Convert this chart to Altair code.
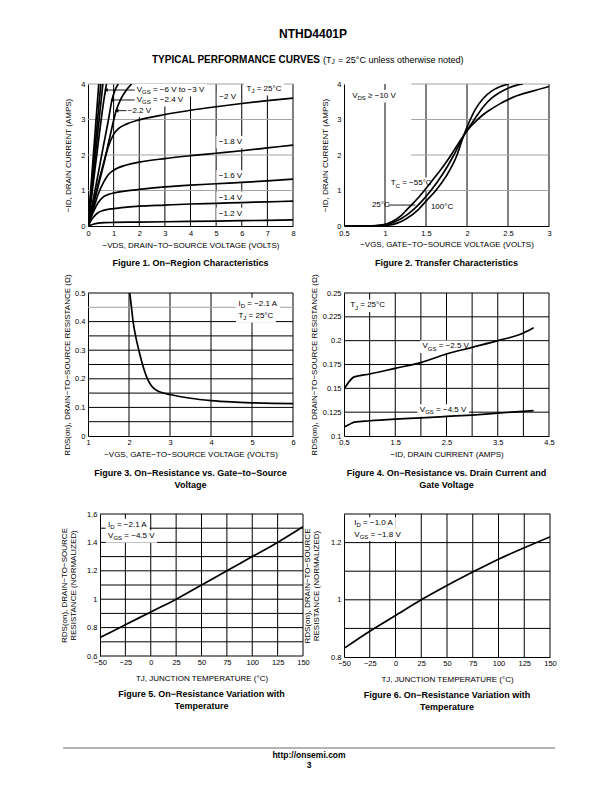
import re
import altair as alt
import pandas as pd

FONT = "Liberation Sans"
BLACK = "#000000"
GRAY = "#a3a3a3"

# ---------------- Figure 1: On-Region Characteristics ----------------
F1_X_6V = [0, 0.21, 0.42]
F1_Y_6V = [0, 2.0, 4.0]
F1_X_5V = [0, 0.25, 0.5]
F1_Y_5V = [0, 2.0, 4.0]
F1_X_4V = [0, 0.29, 0.58]
F1_Y_4V = [0, 2.0, 4.0]
F1_X_3V = [0, 0.35, 0.62, 0.72]
F1_Y_3V = [0, 2.05, 3.55, 4.0]
F1_X_24V = [0, 0.3, 0.6, 0.8, 0.93, 1.05, 1.18]
F1_Y_24V = [0, 1.1, 2.25, 3.0, 3.53, 3.82, 4.0]
F1_X_22V = [0, 0.3, 0.6, 0.85, 1.1, 1.3, 1.5, 1.7]
F1_Y_22V = [0, 0.85, 1.7, 2.5, 3.25, 3.6, 3.83, 4.0]
F1_X_20V = [0, 0.2, 0.4, 0.6, 0.8, 1.0, 1.2, 1.5, 2, 3, 4, 5, 6, 7, 8]
F1_Y_20V = [0, 0.6, 1.2, 1.75, 2.25, 2.58, 2.75, 2.87, 2.99, 3.14, 3.26, 3.36, 3.45, 3.53, 3.6]
F1_X_18V = [0, 0.2, 0.4, 0.6, 0.8, 1.0, 1.5, 2, 3, 4, 5, 6, 7, 8]
F1_Y_18V = [0, 0.45, 0.9, 1.22, 1.45, 1.57, 1.72, 1.8, 1.9, 1.98, 2.05, 2.12, 2.2, 2.28]
F1_X_16V = [0, 0.2, 0.4, 0.6, 0.8, 1, 1.5, 2, 3, 4, 5, 6, 7, 8]
F1_Y_16V = [0, 0.38, 0.66, 0.82, 0.89, 0.93, 0.99, 1.03, 1.1, 1.15, 1.19, 1.23, 1.27, 1.32]
F1_X_14V = [0, 0.2, 0.4, 0.6, 1, 1.5, 2, 3, 4, 5, 6, 7, 8]
F1_Y_14V = [0, 0.24, 0.38, 0.44, 0.49, 0.53, 0.56, 0.59, 0.62, 0.64, 0.66, 0.68, 0.7]
F1_X_12V = [0, 0.2, 0.4, 0.7, 1, 2, 4, 6, 8]
F1_Y_12V = [0, 0.05, 0.08, 0.095, 0.1, 0.11, 0.13, 0.15, 0.17]

# ---------------- Figure 2: Transfer Characteristics ----------------
F2_X_100C = [0.5, 0.8, 0.97, 1.1, 1.2, 1.27, 1.4, 1.48, 1.6, 1.7, 1.8, 1.88, 1.96, 2.05, 2.13, 2.2, 2.3, 2.4, 2.5, 2.6, 2.8, 3.0]
F2_Y_100C = [0, 0, 0.03, 0.14, 0.3, 0.47, 0.78, 1.0, 1.35, 1.65, 1.98, 2.27, 2.55, 2.82, 3.0, 3.14, 3.3, 3.44, 3.56, 3.66, 3.8, 3.93]
F2_X_25C = [0.5, 0.85, 1.0, 1.1, 1.2, 1.35, 1.45, 1.56, 1.7, 1.84, 1.96, 2.09, 2.2, 2.3, 2.4, 2.5, 2.6, 2.68]
F2_Y_25C = [0, 0, 0.03, 0.1, 0.21, 0.47, 0.7, 1.0, 1.45, 2.0, 2.55, 3.0, 3.36, 3.6, 3.76, 3.88, 3.96, 4.0]
F2_X_M55C = [0.5, 0.9, 1.03, 1.15, 1.25, 1.41, 1.5, 1.62, 1.75, 1.87, 1.96, 2.04, 2.1, 2.2, 2.3, 2.4, 2.51]
F2_Y_M55C = [0, 0, 0.02, 0.08, 0.19, 0.47, 0.7, 1.0, 1.42, 1.95, 2.55, 3.0, 3.28, 3.6, 3.8, 3.92, 4.0]

# ---------------- Figure 3: RDS(on) vs VGS ----------------
F3_X = [2.02, 2.06, 2.1, 2.16, 2.24, 2.33, 2.45, 2.55, 2.67, 2.8, 3.0, 3.5, 4.0, 4.5, 5.0, 5.5, 6.0]
F3_Y = [0.5, 0.45, 0.4, 0.35, 0.3, 0.25, 0.2, 0.175, 0.16, 0.152, 0.145, 0.132, 0.124, 0.119, 0.116, 0.114, 0.113]

# ---------------- Figure 4: RDS(on) vs ID ----------------
F4_X_25V = [0.5, 0.6, 0.7, 1.0, 1.5, 2.0, 2.5, 3.0, 3.5, 4.0, 4.2]
F4_Y_25V = [0.149, 0.157, 0.162, 0.165, 0.171, 0.177, 0.186, 0.193, 0.2, 0.208, 0.2135]
F4_X_45V = [0.5, 0.6, 0.7, 1.0, 1.5, 2.0, 2.5, 3.0, 3.5, 4.2]
F4_Y_45V = [0.1094, 0.112, 0.1146, 0.116, 0.1177, 0.119, 0.1205, 0.122, 0.124, 0.1267]

# ---------------- Figure 5 / 6: RDS(on) vs temperature ----------------
F5_T = [-50, -25, 0, 25, 50, 75, 100, 125, 150]
F5_R = [0.73, 0.82, 0.91, 1.0, 1.1, 1.2, 1.3, 1.4, 1.51]
F6_T = [-50, -25, 0, 25, 50, 75, 100, 125, 150]
F6_R = [0.83, 0.89, 0.945, 1.0, 1.05, 1.097, 1.142, 1.182, 1.22]

# ---------------- text ----------------
HEADER_PART = "NTHD4401P"
HEADER_BOLD = "TYPICAL PERFORMANCE CURVES"
HEADER_NORM_A = "(T"
HEADER_NORM_SUB = "J"
HEADER_NORM_B = "= 25°C unless otherwise noted)"
FOOTER_URL = "http://onsemi.com"
FOOTER_PAGE = "3"

# Arial / Liberation Sans advance widths (per 1000 em)
CW = {' ': 278, '(': 333, ')': 333, '-': 333, '.': 278, '/': 278, ':': 278, '=': 584, '≥': 549,
      '°': 400, '−': 584, 'Ω': 768, ',': 278}
for _c in '0123456789':
    CW[_c] = 556
CW.update(dict(zip('ABCDEFGHIJKLMNOPQRSTUVWXYZ',
                   [667, 667, 722, 722, 667, 611, 778, 722, 278, 500, 667, 556, 833, 722, 778, 667,
                    778, 722, 667, 611, 722, 667, 944, 667, 667, 611])))
CW.update(dict(zip('abcdefghijklmnopqrstuvwxyz',
                   [556, 556, 500, 556, 556, 278, 556, 556, 222, 222, 500, 222, 833, 556, 556, 556,
                    556, 333, 500, 278, 556, 500, 722, 500, 500, 500])))


def text_w(s, fs):
    return sum(CW.get(c, 580) for c in s) / 1000.0 * fs


def segments(markup):
    out = []
    for p in re.split(r'(_\{[^}]*\})', markup):
        if not p:
            continue
        if p.startswith('_{'):
            out.append((p[2:-1], True))
        else:
            out.append((p, False))
    return out


LABEL_FS = 8.0
SUB_FS = 6.0
NUM_FMT = '.4~g'


def label_tables(labels, kx, ky):
    rows, boxes = [], []
    for (x, y, markup, align, box) in labels:
        segs = segments(markup)
        sizes = [SUB_FS if sub else LABEL_FS for _, sub in segs]
        widths = [text_w(t, s) for (t, _), s in zip(segs, sizes)]
        total = sum(widths)
        start = 0.0 if align == 'left' else -total / 2.0
        cur = start
        for (t, sub), s, wpx in zip(segs, sizes, widths):
            stripped = t.lstrip(' ')
            lead = text_w(t[:len(t) - len(stripped)], s)
            rows.append({'x': x + (cur + lead) * kx,
                         'y': y - (2.2 * ky if sub else 0.0),
                         't': stripped, 'fs': s})
            cur += wpx
        if box:
            boxes.append({'x1': x + (start - 2.5) * kx, 'x2': x + (start + total + 2.5) * kx,
                          'y1': y - 6.5 * ky, 'y2': y + 6.0 * ky})
    return pd.DataFrame(rows), pd.DataFrame(boxes)


def panel(cfg):
    x0, x1 = cfg['xdom']
    y0, y1 = cfg['ydom']
    w, h = cfg['w'], cfg['h']
    lpad = cfg.get('lpad', 0)
    kx = (x1 - x0) / w
    ky = (y1 - y0) / h
    xs = alt.Scale(domain=[x0 - lpad * kx, x1], nice=False, zero=False)
    ys = alt.Scale(domain=[y0, y1], nice=False, zero=False)

    xaxis = alt.Axis(values=cfg['xticks'], format=NUM_FMT, title=cfg['xtitle'], grid=False, ticks=False,
                     domain=(lpad == 0), domainColor=BLACK, domainWidth=1, labelFont=FONT, labelFontSize=7.5,
                     labelColor=BLACK, labelPadding=cfg['xlabpad'], labelFlush=False,
                     labelOverlap=False, titleFont=FONT, titleFontSize=8, titleFontWeight='normal',
                     titleColor=BLACK, titleX=lpad + w / 2.0, titleY=cfg['xtitle_y'], titleBaseline='middle',
                     titleAlign='center')
    yaxis = alt.Axis(values=cfg['yticks'], format=NUM_FMT, title=cfg['ytitle'], grid=False, ticks=False,
                     domain=True, domainColor=BLACK, domainWidth=1, labelFont=FONT, labelFontSize=7.5,
                     labelColor=BLACK, labelPadding=3, labelOverlap=False, labelFlush=False,
                     titleFont=FONT, titleFontSize=8, titleFontWeight='normal', titleColor=BLACK,
                     titleAngle=270, titleX=cfg['ytitle_x'], titleY=h / 2.0, titleBaseline='middle',
                     titleAlign='center', titleLineHeight=9, offset=-lpad)

    def X(f):
        return alt.X(f, scale=xs, axis=xaxis)

    def Y(f):
        return alt.Y(f, scale=ys, axis=yaxis)

    base = alt.Chart(pd.DataFrame({'x': [x0, x1], 'y': [y0, y1]})).mark_point(opacity=0).encode(
        x=X('x:Q'), y=Y('y:Q'))

    hlist = list(cfg['hgrid'])
    if lpad:
        hlist.append((y0, BLACK, x0, x1))
    vrows = [{'x': v, 'y': y0, 'b': y1, 'c': c} for v, c in cfg['vgrid']]
    hrows = [{'y': v, 'x': a, 'b': b, 'c': c} for v, c, a, b in hlist]
    vgrid = alt.Chart(pd.DataFrame(vrows)).mark_rule(strokeWidth=1).encode(
        x=X('x:Q'), y=Y('y:Q'), y2='b:Q', color=alt.Color('c:N', scale=None))
    hgrid = alt.Chart(pd.DataFrame(hrows)).mark_rule(strokeWidth=1).encode(
        y=Y('y:Q'), x=X('x:Q'), x2='b:Q', color=alt.Color('c:N', scale=None))

    lab_df, box_df = label_tables(cfg['labels'], kx, ky)
    layers = [base, vgrid, hgrid]
    if len(box_df):
        bdf = box_df.rename(columns={'x1': 'x', 'y1': 'y'})
        layers.append(alt.Chart(bdf).mark_rect(color='white').encode(
            x=X('x:Q'), x2='x2:Q', y=Y('y:Q'), y2='y2:Q'))

    crow = []
    for name, xv, yv in cfg['curves']:
        for i, (a, b) in enumerate(zip(xv, yv)):
            crow.append({'s': name, 'x': a, 'y': b, 'o': i})
    layers.append(alt.Chart(pd.DataFrame(crow)).mark_line(
        color=BLACK, strokeWidth=1.7, interpolate='monotone', clip=True).encode(
        x=X('x:Q'), y=Y('y:Q'), detail='s:N', order='o:Q'))

    if cfg.get('leaders'):
        ldf = pd.DataFrame([{'x': a, 'b': b, 'y': y} for a, b, y in cfg['leaders']])
        layers.append(alt.Chart(ldf).mark_rule(color=BLACK, strokeWidth=0.9).encode(
            x=X('x:Q'), x2='b:Q', y=Y('y:Q')))
    if cfg.get('arrows'):
        adf = pd.DataFrame([{'x': a, 'y': y} for a, b, y in cfg['arrows']])
        layers.append(alt.Chart(adf).mark_point(shape='triangle-left', filled=True, color=BLACK,
                                                size=16, opacity=1).encode(x=X('x:Q'), y=Y('y:Q')))

    layers.append(alt.Chart(lab_df).mark_text(font=FONT, align='left', baseline='middle', color=BLACK).encode(
        x=X('x:Q'), y=Y('y:Q'), text='t:N', size=alt.Size('fs:Q', scale=None)))

    return alt.layer(*layers).properties(
        width=w + lpad, height=h,
        title=alt.TitleParams(text=cfg['caption'], orient='bottom', anchor='middle', frame='group',
                              offset=cfg['cap_off'], font=FONT, fontSize=9, fontWeight='bold',
                              color=BLACK, baseline='top', lineHeight=11.5, dx=lpad / 2.0))


def grid(vals, color):
    return [(v, color) for v in vals]


def hgrid(vals, color, a, b):
    return [(v, color, a, b) for v in vals]


fig1 = panel(dict(
    xdom=(0, 8), ydom=(0, 4), w=205, h=142,
    xticks=[0, 1, 2, 3, 4, 5, 6, 7, 8], yticks=[0, 1, 2, 3, 4],
    vgrid=grid([1, 2, 3, 4, 5, 6, 7, 8], BLACK),
    hgrid=hgrid([1, 2, 3, 4], GRAY, 0, 8),
    curves=[('-6V', F1_X_6V, F1_Y_6V), ('-5V', F1_X_5V, F1_Y_5V), ('-4V', F1_X_4V, F1_Y_4V),
            ('-3V', F1_X_3V, F1_Y_3V), ('-2.4V', F1_X_24V, F1_Y_24V), ('-2.2V', F1_X_22V, F1_Y_22V),
            ('-2.0V', F1_X_20V, F1_Y_20V), ('-1.8V', F1_X_18V, F1_Y_18V), ('-1.6V', F1_X_16V, F1_Y_16V),
            ('-1.4V', F1_X_14V, F1_Y_14V), ('-1.2V', F1_X_12V, F1_Y_12V)],
    labels=[(1.9, 3.83, "V_{GS} = −6 V to −3 V", 'left', True),
            (1.9, 3.55, "V_{GS} = −2.4 V", 'left', True),
            (1.55, 3.25, "−2.2 V", 'left', True),
            (5.45, 3.62, "−2 V", 'center', True),
            (6.87, 3.86, "T_{J} = 25°C", 'center', True),
            (5.56, 2.37, "−1.8 V", 'center', True),
            (5.56, 1.40, "−1.6 V", 'center', True),
            (5.56, 0.80, "−1.4 V", 'center', True),
            (5.56, 0.35, "−1.2 V", 'center', True)],
    arrows=[(0.70, 1.82, 3.83), (0.94, 1.82, 3.55), (1.12, 1.5, 3.25)],
    leaders=[(0.70, 1.82, 3.83), (0.94, 1.82, 3.55), (1.12, 1.5, 3.25)],
    xlabpad=3.5,
    xtitle="−VDS, DRAIN−TO−SOURCE VOLTAGE (VOLTS)", xtitle_y=19,
    ytitle="−ID, DRAIN CURRENT (AMPS)", ytitle_x=-20,
    caption="Figure 1. On−Region Characteristics", cap_off=10))

fig2 = panel(dict(
    xdom=(0.5, 3), ydom=(0, 4), w=205, h=142,
    xticks=[0.5, 1, 1.5, 2, 2.5, 3], yticks=[0, 1, 2, 3, 4],
    vgrid=grid([1, 1.5, 2, 2.5, 3], BLACK),
    hgrid=hgrid([1, 2, 3, 4], GRAY, 1.32, 3),
    curves=[('100C', F2_X_100C, F2_Y_100C), ('25C', F2_X_25C, F2_Y_25C), ('-55C', F2_X_M55C, F2_Y_M55C)],
    labels=[(0.6, 3.66, "V_{DS} ≥ −10 V", 'left', True),
            (1.07, 1.2, "T_{C} = −55°C", 'left', True),
            (0.84, 0.59, "25°C", 'left', False),
            (1.56, 0.54, "100°C", 'left', True)],
    leaders=[(1.04, 1.37, 0.59)],
    xlabpad=3.5,
    xtitle="−VGS, GATE−TO−SOURCE VOLTAGE (VOLTS)", xtitle_y=18.5,
    ytitle="−ID, DRAIN CURRENT (AMPS)", ytitle_x=-19,
    caption="Figure 2. Transfer Characteristics", cap_off=10))

fig3 = panel(dict(
    xdom=(1, 6), ydom=(0, 0.5), w=205, h=143,
    xticks=[1, 2, 3, 4, 5, 6], yticks=[0, 0.1, 0.2, 0.3, 0.4, 0.5],
    vgrid=grid([2, 3, 4, 5, 6], BLACK),
    hgrid=hgrid([0.05, 0.1, 0.15, 0.2, 0.25, 0.3, 0.35, 0.4, 0.5], BLACK, 1, 6) + hgrid([0.45], GRAY, 1, 6),
    curves=[('rds', F3_X, F3_Y)],
    labels=[(4.67, 0.462, "I_{D} = −2.1 A", 'left', True),
            (4.67, 0.42, "T_{J} = 25°C", 'left', True)],
    xlabpad=2,
    xtitle="−VGS, GATE−TO−SOURCE VOLTAGE (VOLTS)", xtitle_y=18,
    ytitle="RDS(on), DRAIN−TO−SOURCE RESISTANCE (Ω)", ytitle_x=-21,
    caption=["Figure 3. On−Resistance vs. Gate−to−Source", "Voltage"], cap_off=11))

fig4 = panel(dict(
    xdom=(0.5, 4.5), ydom=(0.1, 0.25), w=205, h=143,
    xticks=[0.5, 1.5, 2.5, 3.5, 4.5], yticks=[0.1, 0.125, 0.15, 0.175, 0.2, 0.225, 0.25],
    vgrid=grid([1, 1.5, 2, 2.5, 3, 3.5, 4, 4.5], BLACK),
    hgrid=hgrid([0.125, 0.15, 0.175, 0.2, 0.225, 0.25], BLACK, 0.5, 4.5),
    curves=[('-2.5V', F4_X_25V, F4_Y_25V), ('-4.5V', F4_X_45V, F4_Y_45V)],
    labels=[(0.62, 0.237, "T_{J} = 25°C", 'left', True),
            (2.03, 0.194, "V_{GS} = −2.5 V", 'left', True),
            (1.98, 0.127, "V_{GS} = −4.5 V", 'left', True)],
    xlabpad=2,
    xtitle="−ID, DRAIN CURRENT (AMPS)", xtitle_y=18,
    ytitle="RDS(on), DRAIN−TO−SOURCE RESISTANCE (Ω)", ytitle_x=-30,
    caption=["Figure 4. On−Resistance vs. Drain Current and", "Gate Voltage"], cap_off=11))

fig5 = panel(dict(
    xdom=(-50, 150), ydom=(0.6, 1.6), w=203, h=142, lpad=12,
    xticks=[-50, -25, 0, 25, 50, 75, 100, 125, 150], yticks=[0.6, 0.8, 1, 1.2, 1.4, 1.6],
    vgrid=grid([-25, 0, 25, 50, 75, 100, 125, 150], BLACK),
    hgrid=hgrid([0.7, 0.8, 0.9, 1.0, 1.1, 1.2, 1.3, 1.4, 1.5, 1.6], BLACK, -50, 150),
    curves=[('t', F5_T, F5_R)],
    labels=[(-42, 1.525, "I_{D} = −2.1 A", 'left', True),
            (-42, 1.443, "V_{GS} = −4.5 V", 'left', True)],
    xlabpad=2.5,
    xtitle="TJ, JUNCTION TEMPERATURE (°C)", xtitle_y=22,
    ytitle=["RDS(on), DRAIN−TO−SOURCE", "RESISTANCE (NORMALIZED)"], ytitle_x=-36,
    caption=["Figure 5. On−Resistance Variation with", "Temperature"], cap_off=8))

fig6 = panel(dict(
    xdom=(-50, 150), ydom=(0.8, 1.3), w=206, h=143,
    xticks=[-50, -25, 0, 25, 50, 75, 100, 125, 150], yticks=[0.8, 1, 1.2],
    vgrid=grid([-25, 0, 25, 50, 75, 100, 125, 150], BLACK),
    hgrid=hgrid([0.9, 1.0, 1.1, 1.2, 1.3], BLACK, -50, 150),
    curves=[('t', F6_T, F6_R)],
    labels=[(-40, 1.268, "I_{D} = −1.0 A", 'left', True),
            (-40, 1.228, "V_{GS} = −1.8 V", 'left', True)],
    xlabpad=2.5,
    xtitle="TJ, JUNCTION TEMPERATURE (°C)", xtitle_y=22,
    ytitle=["RDS(on), DRAIN−TO−SOURCE", "RESISTANCE (NORMALIZED)"], ytitle_x=-37,
    caption=["Figure 6. On−Resistance Variation with", "Temperature"], cap_off=8))


def spacer(w, h):
    return alt.Chart(pd.DataFrame({'s': [0]})).mark_point(opacity=0).encode(
        x=alt.value(0), y=alt.value(0)).properties(width=w, height=h)


def txt(t, x, y, size, weight='normal', align='center', color=BLACK):
    return alt.Chart(pd.DataFrame({'t': [t]})).mark_text(
        font=FONT, fontSize=size, fontWeight=weight, align=align, baseline='middle', color=color).encode(
        x=alt.value(x), y=alt.value(y), text='t:N')


# grid geometry (chart px; page = chart + 8)
C0, C1, C2, C3 = 77, 215, 41, 206
HEAD_H, G12, G23, FOOT_H = 73, 67, 78, 115
OX = C0 + 8  # page x of header/footer cell origin

sub_x = 320 - OX + text_w(HEADER_NORM_A, 9)
header = alt.layer(
    txt(HEADER_PART, 310 - OX, 23, 12, 'bold'),
    txt(HEADER_BOLD, 317 - OX, 49, 10, 'bold', 'right'),
    txt(HEADER_NORM_A, 320 - OX, 49, 9, 'normal', 'left'),
    txt(HEADER_NORM_SUB, sub_x, 51, 6.5, 'normal', 'left'),
    txt(HEADER_NORM_B, sub_x + text_w("J ", 6.5) + 1.5, 49, 9, 'normal', 'left'),
).properties(width=C1, height=HEAD_H)

footer_line = alt.Chart(pd.DataFrame({'a': [0]})).mark_rule(color='#b5b5b5', strokeWidth=2).encode(
    x=alt.value(60 - OX), x2=alt.value(552 - OX), y=alt.value(91))
footer = alt.layer(
    footer_line,
    txt(FOOTER_URL, 306 - OX, 98, 8.5, 'bold'),
    txt(FOOTER_PAGE, 306 - OX, 108, 8.5, 'bold'),
).properties(width=C1, height=FOOT_H)

cells = [
    spacer(C0, HEAD_H), header, spacer(C2, HEAD_H), spacer(C3, HEAD_H),
    spacer(C0, 142), fig1, spacer(C2, 142), fig2,
    spacer(C0, G12), spacer(1, G12), spacer(1, G12), spacer(1, G12),
    spacer(C0, 143), fig3, spacer(C2, 143), fig4,
    spacer(C0, G23), spacer(1, G23), spacer(1, G23), spacer(1, G23),
    spacer(C0, 143), fig5, spacer(C2, 143), fig6,
    spacer(C0, FOOT_H), footer, spacer(1, FOOT_H), spacer(1, FOOT_H),
]

chart = alt.concat(*cells, columns=4, spacing=0, bounds='flush', align='each').properties(
    padding=0).configure(font=FONT).configure_view(stroke=None, strokeWidth=0)

chart.save("out.html", embed_options={"renderer": "svg", "actions": False})
